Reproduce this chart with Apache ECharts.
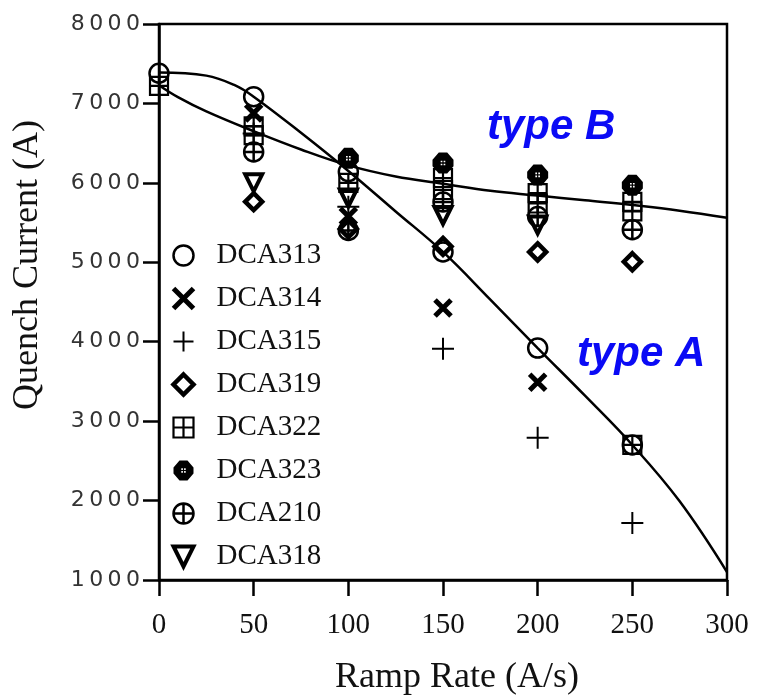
<!DOCTYPE html>
<html><head><meta charset="utf-8">
<script src="https://cdn.jsdelivr.net/npm/echarts@6/dist/echarts.min.js"></script>
<style>html,body{margin:0;padding:0;background:#fff}#c{width:759px;height:699px}</style>
</head><body><div id="c"></div>
<script>
// ---- data ----
const xTicks = [0, 50, 100, 150, 200, 250, 300];
const yTicks = [1000, 2000, 3000, 4000, 5000, 6000, 7000, 8000];
const legendNames = ['DCA313', 'DCA314', 'DCA315', 'DCA319', 'DCA322', 'DCA323', 'DCA210', 'DCA318'];

const DCA313 = [[0, 7380], [50, 7085], [100, 6140], [150, 5130], [200, 3920], [250, 2700]];
const DCA314 = [[50, 6880], [100, 5580], [150, 4425], [200, 3490]];
const DCA315 = [[50, 6620], [100, 5700], [150, 3910], [200, 2790], [250, 1718]];
const DCA319 = [[50, 5763], [100, 5420], [150, 5200], [200, 5130], [250, 5007]];
const DCA322 = [[0, 7220], [50, 6710], [50, 6600], [100, 6000], [150, 6060], [150, 5910], [200, 5870], [200, 5740], [250, 5760], [250, 5640], [250, 2700]];
const DCA323 = [[100, 6310], [150, 6250], [200, 6100], [250, 5970]];
const DCA210 = [[50, 6390], [100, 5400], [150, 5760], [200, 5575], [250, 5410]];
const DCA318 = [[50, 6000], [100, 5810], [150, 5590], [200, 5470]];

const typeAx = [0, 25, 40, 50, 75, 100, 125, 150, 175, 200, 225, 250, 275, 300];
const typeAy = [7390, 7350, 7230, 7085, 6630, 6150, 5640, 5130, 4530, 3920, 3320, 2700, 1990, 1100];
const typeBx = [0, 10, 25, 50, 75, 100, 125, 150, 175, 200, 225, 250, 275, 300];
const typeBy = [7230, 7080, 6900, 6650, 6420, 6220, 6080, 5990, 5900, 5840, 5780, 5720, 5650, 5560];

// ---- styles ----
const OUT = { color: 'rgba(0,0,0,0)', borderColor: '#000', opacity: 1 };
const symbolDefs = {
  DCA313: { symbol: 'circle', size: 19, style: Object.assign({ borderWidth: 2.5 }, OUT) },
  DCA314: { symbol: 'path://M0,0L10,10M10,0L0,10', size: 16, style: Object.assign({ borderWidth: 5 }, OUT) },
  DCA315: { symbol: 'path://M5,0V10M0,5H10', size: 22, style: Object.assign({ borderWidth: 2 }, OUT) },
  DCA319: { symbol: 'path://M5,0L10,5L5,10L0,5Z', size: 17, style: Object.assign({ borderWidth: 4.5 }, OUT) },
  DCA322: { symbol: 'path://M0,0H10V10H0ZM5,0V10M0,5H10', size: 18, style: Object.assign({ borderWidth: 2.2 }, OUT) },
  DCA323: { symbol: 'path://M3,0H7L10,3.5V6.5L7,10H3L0,6.5V3.5Z M3.9,3.9V4.7H4.7V3.9Z M5.3,3.9V4.7H6.1V3.9Z M3.9,5.3V6.1H4.7V5.3Z M5.3,5.3V6.1H6.1V5.3Z', size: 21, style: { color: '#000', borderColor: '#000', borderWidth: 0, opacity: 1 } },
  DCA210: { symbol: 'path://M0,5A5,5,0,1,1,10,5A5,5,0,1,1,0,5ZM5,0V10M0,5H10', size: 19, style: Object.assign({ borderWidth: 2.5 }, OUT) },
  DCA318: { symbol: 'path://M0,0H10L5,10Z', size: 17, style: Object.assign({ borderWidth: 4 }, OUT) }
};
const dataByName = { DCA313, DCA314, DCA315, DCA319, DCA322, DCA323, DCA210, DCA318 };

const scatterSeries = legendNames.map(n => ({
  name: n,
  type: 'scatter',
  data: dataByName[n],
  symbol: symbolDefs[n].symbol,
  symbolSize: symbolDefs[n].size,
  symbolKeepAspect: false,
  itemStyle: symbolDefs[n].style,
  emphasis: { disabled: true },
  z: 3
}));

const lineSeries = [
  { name: 'type A', type: 'line', data: typeAx.map((x, i) => [x, typeAy[i]]) },
  { name: 'type B', type: 'line', data: typeBx.map((x, i) => [x, typeBy[i]]) }
].map(s => Object.assign(s, {
  smooth: 0.4, showSymbol: false, symbol: 'none', silent: true,
  lineStyle: { color: '#000', width: 2.5 }, z: 4
}));

const legendData = legendNames.map(n => ({
  name: n,
  itemStyle: {
    color: symbolDefs[n].style.color,
    borderColor: '#000',
    borderWidth: symbolDefs[n].style.borderWidth,
    opacity: 1
  }
}));

const chart = echarts.init(document.getElementById('c'), null, { renderer: 'canvas' });
chart.setOption({
  animation: false,
  backgroundColor: '#fff',
  grid: { left: 159, right: 32, top: 24, bottom: 119, show: true, borderColor: '#000', borderWidth: 2.5, backgroundColor: 'transparent' },
  xAxis: {
    type: 'value', min: xTicks[0], max: xTicks[xTicks.length - 1], interval: 50,
    axisLine: { onZero: false, lineStyle: { color: '#000', width: 2.5 } },
    axisTick: { inside: false, length: 16, lineStyle: { color: '#000', width: 2.5 } },
    axisLabel: { margin: 31, fontFamily: 'Liberation Serif', fontSize: 29, color: '#111' },
    splitLine: { show: false }
  },
  yAxis: {
    type: 'value', min: yTicks[0], max: yTicks[yTicks.length - 1], interval: 1000,
    axisLine: { onZero: false, lineStyle: { color: '#000', width: 2.5 } },
    axisTick: { inside: false, length: 16, lineStyle: { color: '#000', width: 2.5 } },
    axisLabel: {
      margin: 19, fontFamily: 'DejaVu Sans', fontSize: 22, color: '#333',
      formatter: v => String(v).split('').join('\u2009')
    },
    splitLine: { show: false }
  },
  legend: {
    data: legendData, orient: 'vertical', left: 166, top: 236,
    itemWidth: 32, itemHeight: 20, itemGap: 14,
    textStyle: { fontFamily: 'Liberation Serif', fontSize: 29, color: '#111', padding: [0, 0, 0, 12] },
    selectedMode: false
  },
  graphic: [
    { type: 'text', x: 28, y: 265, rotation: Math.PI / 2, z: 10,
      style: { text: 'Quench Current (A)', fill: '#111', font: '36px "Liberation Serif", serif', align: 'center', verticalAlign: 'middle' } },
    { type: 'text', x: 457, y: 678, z: 10,
      style: { text: 'Ramp Rate (A/s)', fill: '#111', font: '36px "Liberation Serif", serif', align: 'center', verticalAlign: 'middle' } },
    { type: 'text', left: 487, top: 106, z: 10, style: { text: 'type B', fill: '#0a0af5', font: 'italic bold 42px "Liberation Sans", Arial, sans-serif' } },
    { type: 'text', left: 577, top: 333, z: 10, style: { text: 'type A', fill: '#0a0af5', font: 'italic bold 42px "Liberation Sans", Arial, sans-serif' } }
  ],
  series: scatterSeries.concat(lineSeries)
});
</script>
</body></html>
